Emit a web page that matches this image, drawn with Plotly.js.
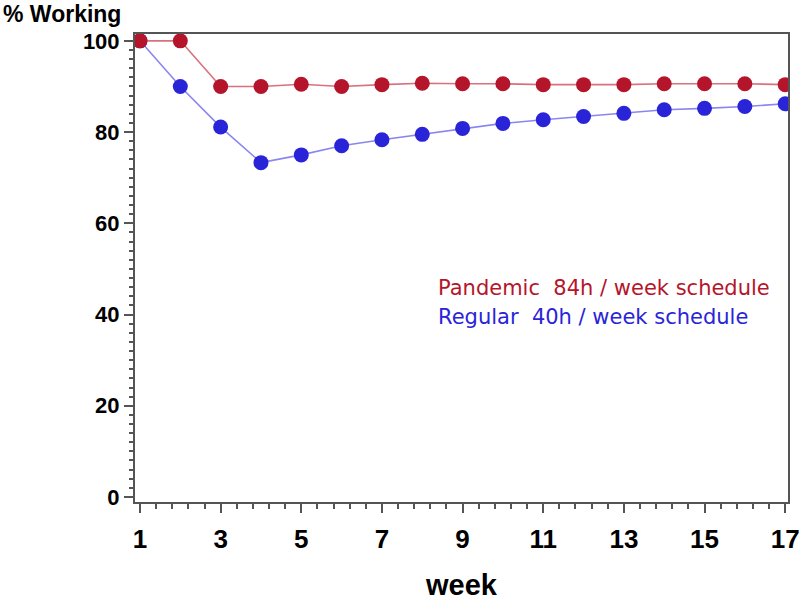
<!DOCTYPE html>
<html>
<head>
<meta charset="utf-8">
<script src="https://cdn.plot.ly/plotly-3.0.1.min.js"></script>
<style>
    body { margin: 0; background: #fff; }
    #chart { width: 800px; height: 601px; }
</style>
</head>
<body>
<div id="chart"></div>
<script>
// 週ごとの就業率 (%)
const weeks = [1, 2, 3, 4, 5, 6, 7, 8, 9, 10, 11, 12, 13, 14, 15, 16, 17];
const pandemicValues = [100, 100, 90.0, 90.0, 90.5, 90.0, 90.4, 90.7, 90.6, 90.6, 90.4, 90.4, 90.4, 90.6, 90.6, 90.6, 90.4];
const regularValues = [100, 90.0, 81.1, 73.3, 75.0, 77.0, 78.3, 79.5, 80.8, 81.9, 82.7, 83.4, 84.1, 84.9, 85.2, 85.6, 86.2];
const xTickValues = [1, 3, 5, 7, 9, 11, 13, 15, 17];
const yTickValues = [0, 20, 40, 60, 80, 100];
const legendLabels = ['Pandemic  84h / week schedule', 'Regular  40h / week schedule'];

const red = '#b5152b';
const blue = '#2a24d9';
const fontFamily = 'Liberation Sans, Arial, sans-serif';

const data = [
    {
        x: weeks,
        y: regularValues,
        mode: 'lines+markers',
        line: { color: '#8a86f0', width: 1.6 },
        marker: { color: blue, size: 15 },
        showlegend: false
    },
    {
        x: weeks,
        y: pandemicValues,
        mode: 'lines+markers',
        line: { color: '#d9707d', width: 1.6 },
        marker: { color: red, size: 15 },
        showlegend: false
    }
];

const layout = {
    width: 800,
    height: 601,
    margin: { l: 135, r: 12, t: 34, b: 99 },
    paper_bgcolor: '#fff',
    plot_bgcolor: '#fff',
    xaxis: {
        range: [0.876, 17.07],
        tickvals: xTickValues,
        ticktext: xTickValues.map(String),
        ticks: 'outside',
        ticklen: 9,
        tickwidth: 2,
        tickcolor: '#555',
        ticklabelstandoff: 4,
        minor: { dtick: 0.4, tick0: 1, ticks: 'outside', ticklen: 5, tickwidth: 1.5, tickcolor: '#555' },
        showline: true,
        linecolor: '#555',
        linewidth: 2,
        mirror: true,
        showgrid: false,
        zeroline: false,
        tickfont: { family: fontFamily, size: 26, color: '#000', weight: 'bold' },
        title: {
            text: '<b>week</b>',
            font: { family: fontFamily, size: 29, color: '#000' },
            standoff: 24
        }
    },
    yaxis: {
        range: [-1.1, 101.5],
        tickvals: yTickValues,
        ticks: 'outside',
        ticklen: 9,
        tickwidth: 2,
        tickcolor: '#555',
        minor: { dtick: 2, ticks: 'outside', ticklen: 4, tickwidth: 1.5, tickcolor: '#555' },
        showline: true,
        linecolor: '#555',
        linewidth: 2,
        mirror: true,
        showgrid: false,
        zeroline: false,
        tickfont: { family: fontFamily, size: 22, color: '#000', weight: 'bold' }
    },
    annotations: [
        {
            text: '<b>% Working</b>',
            xref: 'paper', yref: 'paper',
            x: -0.2, y: 1.043,
            xanchor: 'left', yanchor: 'middle',
            xshift: -3,
            showarrow: false,
            font: { family: fontFamily, size: 23, color: '#000' }
        },
        {
            text: legendLabels[0],
            x: 8.35, y: 45.8,
            xanchor: 'left', yanchor: 'middle',
            showarrow: false,
            font: { family: 'DejaVu Sans, sans-serif', size: 21, color: red }
        },
        {
            text: legendLabels[1],
            x: 8.35, y: 39.5,
            xanchor: 'left', yanchor: 'middle',
            showarrow: false,
            font: { family: 'DejaVu Sans, sans-serif', size: 21, color: blue }
        }
    ]
};

Plotly.newPlot('chart', data, layout, { displayModeBar: false });
</script>
</body>
</html>
